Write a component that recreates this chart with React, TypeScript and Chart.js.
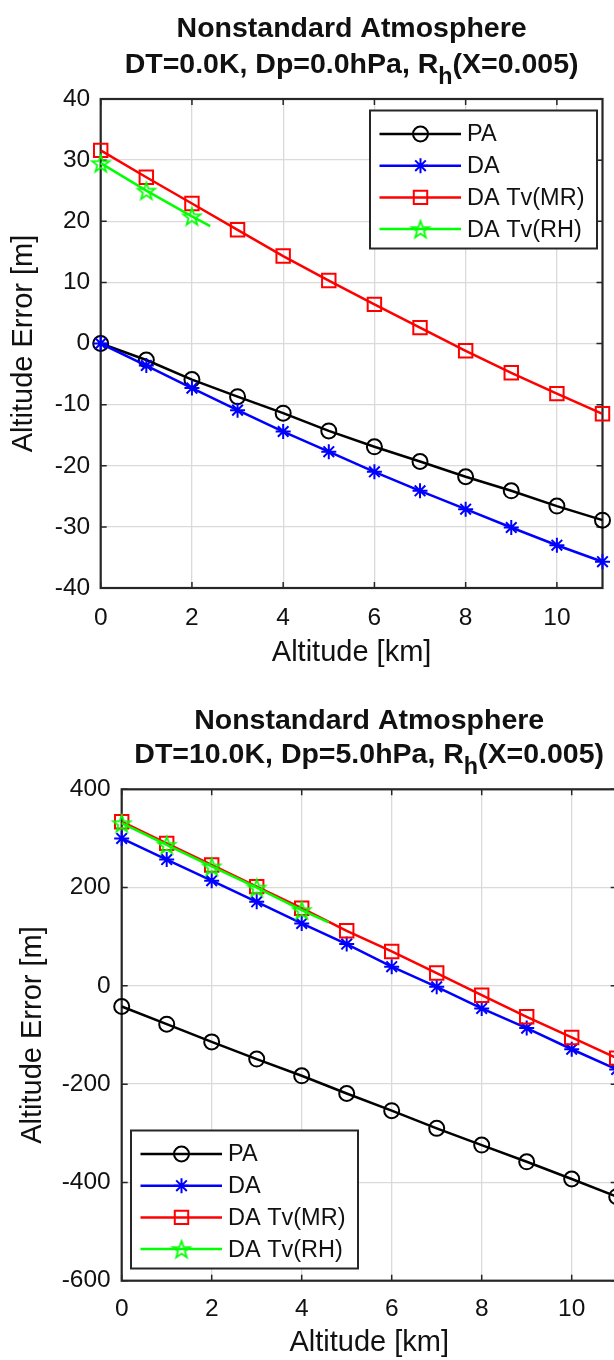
import React, { useEffect, useRef } from 'react';
import { Chart, registerables } from 'chart.js';

Chart.register(...registerables);

// ---------- data ----------
const ALTITUDE_KM = [0, 1, 2, 3, 4, 5, 6, 7, 8, 9, 10, 11];
const X_TICKS = [0, 2, 4, 6, 8, 10];
const SERIES_NAMES = ['PA', 'DA', 'DA Tv(MR)', 'DA Tv(RH)'];
const X_LABEL = 'Altitude [km]';
const Y_LABEL = 'Altitude Error [m]';
const TITLE_LINE1 = 'Nonstandard Atmosphere';

// panel 1 : DT=0.0K, Dp=0.0hPa
const SUBTITLE_1 = ['DT=0.0K, Dp=0.0hPa, R', 'h', '(X=0.005)'];
const Y_TICKS_1 = [-40, -30, -20, -10, 0, 10, 20, 30, 40];
const PA_1 = [0, -2.7, -5.9, -8.7, -11.4, -14.3, -16.9, -19.3, -21.8, -24.1, -26.6, -28.9];
const DA_1 = [0, -3.6, -7.3, -10.9, -14.4, -17.7, -21.0, -24.1, -27.1, -30.1, -33.0, -35.7];
const MR_1 = [31.6, 27.2, 22.9, 18.6, 14.3, 10.3, 6.4, 2.6, -1.2, -4.8, -8.2, -11.5];
const RH_1_KM = [0, 1, 2, 2.4];
const RH_1 = [29.5, 25.0, 20.8, 19.2];

// panel 2 : DT=10.0K, Dp=5.0hPa
const SUBTITLE_2 = ['DT=10.0K, Dp=5.0hPa, R', 'h', '(X=0.005)'];
const Y_TICKS_2 = [-600, -400, -200, 0, 200, 400];
const PA_2 = [-42, -78, -114, -149, -183, -219, -254, -290, -324, -358, -393, -429];
const DA_2 = [300, 257, 214, 171, 127, 85, 39, -2, -46, -86, -129, -170];
const MR_2 = [334, 290, 246, 202, 158, 112, 70, 26, -19, -63, -105, -147];
const RH_2_KM = [0, 1, 2, 3, 4, 4.6];
const RH_2 = [331, 287, 243, 200, 154, 129];

// ---------- styles ----------
const FONT = "'Liberation Sans', Arial, Helvetica, sans-serif";
const AXIS_COLOR = '#262626';
const TEXT_COLOR = '#111111';
const GRID_COLOR = '#dadada';
const TITLE_SIZE = 28.5;
const AXIS_TITLE_SIZE = 29;
const TICK_SIZE = 24.5;
const LEGEND_SIZE = 23.5;

type MarkerKind = 'circle' | 'star' | 'rect' | 'pentagram';
const SERIES_STYLE: { color: string; marker: MarkerKind; radius: number }[] = [
  { color: '#000000', marker: 'circle', radius: 7.5 },
  { color: '#0000ff', marker: 'star', radius: 7.5 },
  { color: '#ff0000', marker: 'rect', radius: 9.5 },
  { color: '#00ff00', marker: 'pentagram', radius: 9 },
];

function makePentagram(color: string, r: number, lw: number): HTMLCanvasElement {
  const size = Math.ceil(2 * r + 2 * lw + 2);
  const c = document.createElement('canvas');
  c.width = size;
  c.height = size;
  const g = c.getContext('2d')!;
  g.strokeStyle = color;
  g.lineWidth = lw;
  const cx = size / 2;
  const cy = size / 2 + r * 0.1;
  g.beginPath();
  for (let i = 0; i < 10; i++) {
    const rr = i % 2 === 0 ? r : r * 0.4;
    const a = -Math.PI / 2 + (i * Math.PI) / 5;
    const px = cx + rr * Math.cos(a);
    const py = cy + rr * Math.sin(a);
    if (i === 0) g.moveTo(px, py);
    else g.lineTo(px, py);
  }
  g.closePath();
  g.stroke();
  return c;
}

function drawMarker(ctx: CanvasRenderingContext2D, kind: MarkerKind, x: number, y: number, r: number, color: string, img: HTMLCanvasElement) {
  ctx.save();
  ctx.strokeStyle = color;
  ctx.lineWidth = 2;
  ctx.beginPath();
  if (kind === 'circle') {
    ctx.arc(x, y, r, 0, Math.PI * 2);
  } else if (kind === 'rect') {
    const s = Math.SQRT1_2 * r;
    ctx.rect(x - s, y - s, 2 * s, 2 * s);
  } else if (kind === 'star') {
    for (let k = 0; k < 4; k++) {
      const a = (k * Math.PI) / 4;
      ctx.moveTo(x - Math.cos(a) * r, y - Math.sin(a) * r);
      ctx.lineTo(x + Math.cos(a) * r, y + Math.sin(a) * r);
    }
  }
  ctx.stroke();
  if (kind === 'pentagram') {
    ctx.drawImage(img, x - img.width / 2, y - img.height / 2);
  }
  ctx.restore();
}

type PanelSpec = {
  canvasW: number;
  canvasH: number;
  subtitle: string[];
  yTicks: number[];
  series: { xs: number[]; ys: number[] }[];
  yAxisWidth: number;
  padTop: number;
  padRight: number;
  xAxisHeight: number;
  yTitlePad: number;
  xTitlePad: number;
  xTickPad: number;
  yTickPad: number;
  title1Base: number;
  title2Base: number;
  legend: { x: number; y: number; w: number; h: number };
};

const PANEL_1: PanelSpec = {
  canvasW: 614,
  canvasH: 680,
  subtitle: SUBTITLE_1,
  yTicks: Y_TICKS_1,
  series: [
    { xs: ALTITUDE_KM, ys: PA_1 },
    { xs: ALTITUDE_KM, ys: DA_1 },
    { xs: ALTITUDE_KM, ys: MR_1 },
    { xs: RH_1_KM, ys: RH_1 },
  ],
  yAxisWidth: 100.7,
  padTop: 99,
  padRight: 3.3,
  xAxisHeight: 92,
  yTitlePad: 6.6,
  xTitlePad: 9.6,
  xTickPad: 15.5,
  yTickPad: 10.5,
  title1Base: 37.3,
  title2Base: 73.3,
  legend: { x: 370, y: 110.5, w: 227, h: 138 },
};

const PANEL_2: PanelSpec = {
  canvasW: 640,
  canvasH: 680,
  subtitle: SUBTITLE_2,
  yTicks: Y_TICKS_2,
  series: [
    { xs: ALTITUDE_KM, ys: PA_2 },
    { xs: ALTITUDE_KM, ys: DA_2 },
    { xs: ALTITUDE_KM, ys: MR_2 },
    { xs: RH_2_KM, ys: RH_2 },
  ],
  yAxisWidth: 121.7,
  padTop: 109.3,
  padRight: 23.3,
  xAxisHeight: 79.3,
  yTitlePad: 15.6,
  xTitlePad: 0,
  xTickPad: 13.5,
  yTickPad: 11,
  title1Base: 49.3,
  title2Base: 83.3,
  legend: { x: 131, y: 450.5, w: 227, h: 138 },
};

function buildConfig(spec: PanelSpec): any {
  const pent = makePentagram(SERIES_STYLE[3].color, SERIES_STYLE[3].radius, 1.8);

  const datasets = spec.series.map((s, i) => {
    const st = SERIES_STYLE[i];
    return {
      label: SERIES_NAMES[i],
      data: s.xs.map((x, k) => ({ x, y: s.ys[k] })),
      borderColor: st.color,
      borderWidth: 2.5,
      backgroundColor: 'rgba(0,0,0,0)',
      pointStyle: st.marker === 'pentagram' ? pent : st.marker,
      pointRadius: s.xs.map((x) => (Number.isInteger(x) ? st.radius : 0)),
      pointHoverRadius: s.xs.map((x) => (Number.isInteger(x) ? st.radius : 0)),
      pointBorderColor: st.color,
      pointBackgroundColor: 'rgba(0,0,0,0)',
      pointBorderWidth: 2,
      tension: 0,
      clip: false,
      order: SERIES_STYLE.length - i,
    };
  });

  const framePlugin = {
    id: 'matlabFrame',
    beforeDatasetsDraw(chart: any) {
      const { ctx, chartArea: a, scales } = chart;
      const TL = 6;
      ctx.save();
      ctx.strokeStyle = AXIS_COLOR;
      ctx.lineWidth = 1.5;
      ctx.beginPath();
      scales.x.ticks.forEach((t: any) => {
        const px = scales.x.getPixelForValue(t.value);
        ctx.moveTo(px, a.bottom);
        ctx.lineTo(px, a.bottom - TL);
        ctx.moveTo(px, a.top);
        ctx.lineTo(px, a.top + TL);
      });
      scales.y.ticks.forEach((t: any) => {
        const py = scales.y.getPixelForValue(t.value);
        ctx.moveTo(a.left, py);
        ctx.lineTo(a.left + TL, py);
        ctx.moveTo(a.right, py);
        ctx.lineTo(a.right - TL, py);
      });
      ctx.stroke();
      ctx.lineWidth = 2.2;
      ctx.strokeRect(a.left, a.top, a.right - a.left, a.bottom - a.top);
      ctx.restore();
    },
  };

  const titlePlugin = {
    id: 'matlabTitle',
    afterDraw(chart: any) {
      const { ctx, chartArea: a } = chart;
      const cx = (a.left + a.right) / 2;
      ctx.save();
      ctx.fillStyle = TEXT_COLOR;
      ctx.textBaseline = 'alphabetic';
      const mainFont = `bold ${TITLE_SIZE}px ${FONT}`;
      const subFont = `bold ${TITLE_SIZE * 0.82}px ${FONT}`;
      ctx.font = mainFont;
      ctx.textAlign = 'center';
      ctx.fillText(TITLE_LINE1, cx, spec.title1Base);
      const [pre, sub, post] = spec.subtitle;
      const wPre = ctx.measureText(pre).width;
      const wPost = ctx.measureText(post).width;
      ctx.font = subFont;
      const wSub = ctx.measureText(sub).width;
      const total = wPre + wSub + wPost;
      let x = cx - total / 2;
      ctx.textAlign = 'left';
      ctx.font = mainFont;
      ctx.fillText(pre, x, spec.title2Base);
      x += wPre;
      ctx.font = subFont;
      ctx.fillText(sub, x, spec.title2Base + 11);
      x += wSub;
      ctx.font = mainFont;
      ctx.fillText(post, x, spec.title2Base);
      ctx.restore();
    },
  };

  const legendPlugin = {
    id: 'matlabLegend',
    afterDraw(chart: any) {
      const { ctx } = chart;
      const L = spec.legend;
      ctx.save();
      ctx.fillStyle = '#ffffff';
      ctx.fillRect(L.x, L.y, L.w, L.h);
      ctx.strokeStyle = AXIS_COLOR;
      ctx.lineWidth = 2;
      ctx.strokeRect(L.x, L.y, L.w, L.h);
      const first = 23.5;
      const step = 31.7;
      SERIES_NAMES.forEach((name, i) => {
        const st = SERIES_STYLE[i];
        const y = L.y + first + i * step;
        ctx.strokeStyle = st.color;
        ctx.lineWidth = 2.5;
        ctx.beginPath();
        ctx.moveTo(L.x + 9.5, y);
        ctx.lineTo(L.x + 91, y);
        ctx.stroke();
        drawMarker(ctx, st.marker, L.x + 50.5, y, st.radius, st.color, pent);
        ctx.fillStyle = TEXT_COLOR;
        ctx.font = `${LEGEND_SIZE}px ${FONT}`;
        ctx.textAlign = 'left';
        ctx.textBaseline = 'middle';
        ctx.fillText(name, L.x + 97, y + 1);
      });
      ctx.restore();
    },
  };

  return {
    type: 'line',
    data: { datasets },
    plugins: [framePlugin, titlePlugin, legendPlugin],
    options: {
      responsive: false,
      animation: false,
      devicePixelRatio: 1,
      events: [],
      layout: { padding: { top: spec.padTop, right: spec.padRight, bottom: 0, left: 0 } },
      plugins: {
        legend: { display: false },
        title: { display: false },
        tooltip: { enabled: false },
      },
      scales: {
        x: {
          type: 'linear',
          min: 0,
          max: 11,
          afterBuildTicks: (s: any) => {
            s.ticks = X_TICKS.map((v) => ({ value: v }));
          },
          afterFit: (s: any) => {
            s.height = spec.xAxisHeight;
          },
          grid: { color: GRID_COLOR, lineWidth: 1.3, drawTicks: false },
          border: { display: false },
          ticks: {
            font: { family: FONT, size: TICK_SIZE },
            color: TEXT_COLOR,
            padding: spec.xTickPad,
            maxRotation: 0,
            autoSkip: false,
          },
          title: {
            display: true,
            text: X_LABEL,
            font: { family: FONT, size: AXIS_TITLE_SIZE },
            color: TEXT_COLOR,
            padding: { top: 0, bottom: spec.xTitlePad },
          },
        },
        y: {
          type: 'linear',
          min: spec.yTicks[0],
          max: spec.yTicks[spec.yTicks.length - 1],
          afterBuildTicks: (s: any) => {
            s.ticks = spec.yTicks.map((v) => ({ value: v }));
          },
          afterFit: (s: any) => {
            s.width = spec.yAxisWidth;
          },
          grid: { color: GRID_COLOR, lineWidth: 1.3, drawTicks: false },
          border: { display: false },
          ticks: {
            font: { family: FONT, size: TICK_SIZE },
            color: TEXT_COLOR,
            padding: spec.yTickPad,
            autoSkip: false,
          },
          title: {
            display: true,
            text: Y_LABEL,
            font: { family: FONT, size: AXIS_TITLE_SIZE },
            color: TEXT_COLOR,
            padding: { top: spec.yTitlePad, bottom: 0 },
          },
        },
      },
    },
  };
}

function Panel({ spec, top }: { spec: PanelSpec; top: number }) {
  const ref = useRef<HTMLCanvasElement>(null);
  useEffect(() => {
    const chart = new Chart(ref.current!, buildConfig(spec));
    return () => chart.destroy();
  }, [spec]);
  return (
    <div style={{ position: 'absolute', left: 0, top, width: spec.canvasW, height: spec.canvasH }}>
      <canvas
        ref={ref}
        width={spec.canvasW}
        height={spec.canvasH}
        style={{ display: 'block', width: spec.canvasW, height: spec.canvasH }}
      />
    </div>
  );
}

export default function App() {
  return (
    <div
      style={{
        position: 'absolute',
        left: 0,
        top: 0,
        width: 614,
        height: 1360,
        overflow: 'hidden',
        background: '#ffffff',
      }}
    >
      <Panel spec={PANEL_1} top={0} />
      <Panel spec={PANEL_2} top={680} />
    </div>
  );
}
